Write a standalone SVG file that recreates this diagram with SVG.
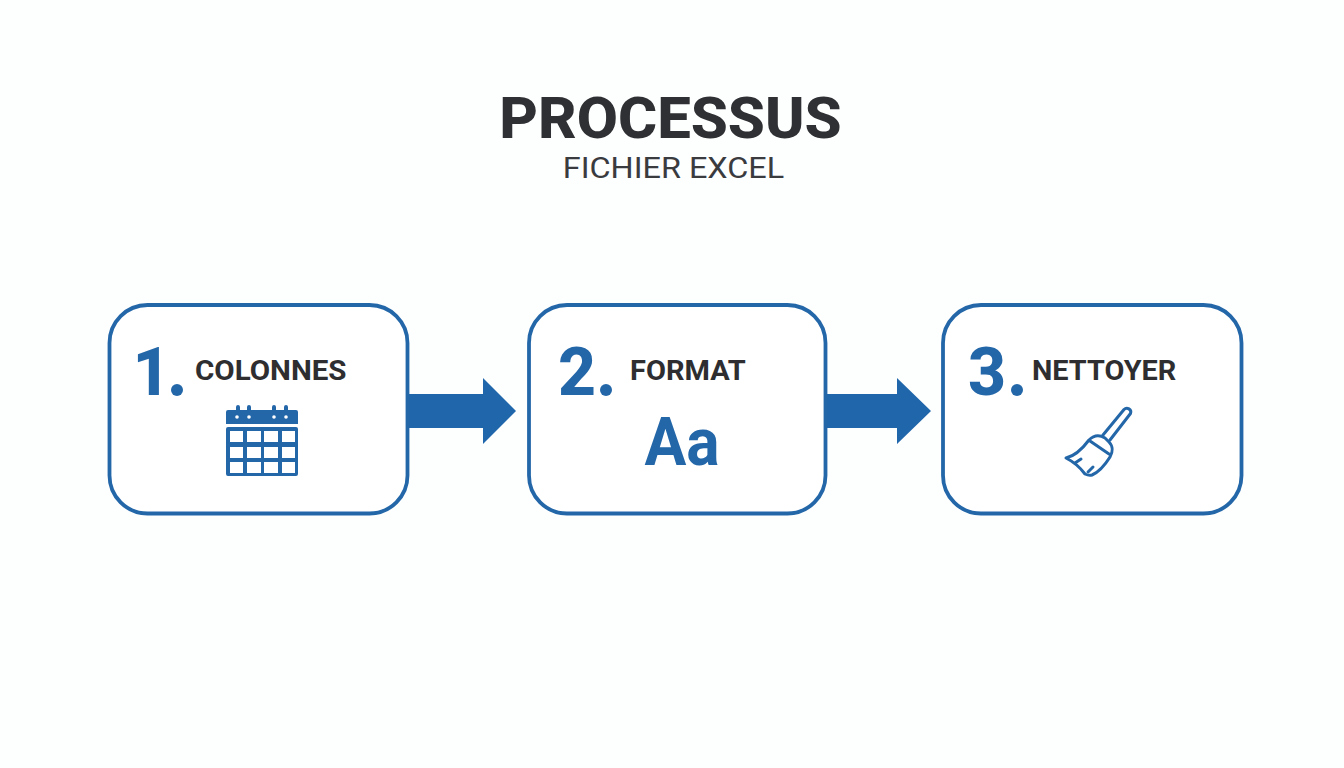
<svg xmlns="http://www.w3.org/2000/svg" width="1344" height="768" viewBox="0 0 1344 768">
<style>
.box{fill:#fff;stroke:#2467a9;stroke-width:3.8}
.num{font-family:Roboto,"Liberation Sans",sans-serif;font-weight:800;font-size:66px;fill:#2467a9}
.lab{font-family:Roboto,"Liberation Sans",sans-serif;font-weight:700;font-size:28px;fill:#2e2e30}
.arrow{fill:#2066ab}
.line{fill:none;stroke:#2467a9;stroke-width:3;stroke-linejoin:round;stroke-linecap:round}
</style>
<rect width="1344" height="768" fill="#fdfefe"/>
<g id="title">
<text transform="translate(670.500,138) scale(1.04,1)" text-anchor="middle" font-family="Roboto,'Liberation Sans',sans-serif" font-weight="800" font-size="57.500" fill="#2f3033">PROCESSUS</text>
<text transform="translate(673.500,178) scale(1.08,1)" text-anchor="middle" font-family="Roboto,'Liberation Sans',sans-serif" font-size="30" fill="#3a3b3e">FICHIER EXCEL</text>
</g>
<g id="connectors">
<polygon class="arrow" points="408,394 483,394 483,378 516,411 483,444 483,428 408,428"/>
<polygon class="arrow" points="825,394 897,394 897,378 931,411 897,444 897,428 825,428"/>
</g>
<g id="node1">
<rect class="box" x="109.500" y="305" width="298" height="208.500" rx="38"/>
<text class="num" x="132.500" y="395">1</text>
<circle cx="177" cy="390" r="6" fill="#2467a9"/>
<text class="lab" transform="translate(195,380) scale(1.055,1)">COLONNES</text>
<path d="M228,410H236V407a2,2 0 0 1 4,0V410H247V407a2,2 0 0 1 4,0V410H272V407a2,2 0 0 1 4,0V410H284V407a2,2 0 0 1 4,0V410H296a2,2 0 0 1 2,2V424H226V412a2,2 0 0 1 2,-2Z" fill="#2467a9"/>
<g fill="#fff"><circle cx="237" cy="417" r="1.800"/><circle cx="249" cy="417" r="1.800"/><circle cx="274" cy="417" r="1.800"/><circle cx="286" cy="417" r="1.800"/></g>
<path fill="#2467a9" fill-rule="evenodd" d="M228,427H296a2,2 0 0 1 2,2V474a2,2 0 0 1 -2,2H228a2,2 0 0 1 -2,-2V429a2,2 0 0 1 2,-2ZM230,431V442H243V431ZM247,431V442H261V431ZM264,431V442H278V431ZM282,431V442H295V431ZM230,447V458H243V447ZM247,447V458H261V447ZM264,447V458H278V447ZM282,447V458H295V447ZM230,462V473H243V462ZM247,462V473H261V462ZM264,462V473H278V462ZM282,462V473H295V462Z"/>
</g>
<g id="node2">
<rect class="box" x="529" y="305" width="296.500" height="208.500" rx="38"/>
<text class="num" x="558" y="395">2</text>
<circle cx="606" cy="390" r="6" fill="#2467a9"/>
<text class="lab" transform="translate(630,380) scale(1.036,1)">FORMAT</text>
<text transform="translate(682,465) scale(.93,1)" text-anchor="middle" font-family="Roboto,'Liberation Sans',sans-serif" font-weight="700" font-size="67" fill="#2467a9">Aa</text>
</g>
<g id="node3">
<rect class="box" x="943" y="305" width="298.500" height="208.500" rx="38"/>
<text class="num" x="968" y="395">3</text>
<circle cx="1017" cy="390" r="6" fill="#2467a9"/>
<text class="lab" transform="translate(1032,380) scale(1.03,1)">NETTOYER</text>
<path class="line" d="M1103,435L1124,409.500C1127,406.500 1132,409.500 1130.500,413.500L1110,440"/>
<path class="line" d="M1066,458C1075,456 1083,448 1089,440C1094,435 1100,435 1105,438L1109,442C1113,446 1113,452 1110,457C1105,465 1099,472 1092,475C1089,476 1087,475 1085,474C1079,466 1072,461 1066,458Z"/>
<path class="line" d="M1090,441L1109,454M1075,463L1081,459M1088,472L1093,467"/>
</g>
</svg>
